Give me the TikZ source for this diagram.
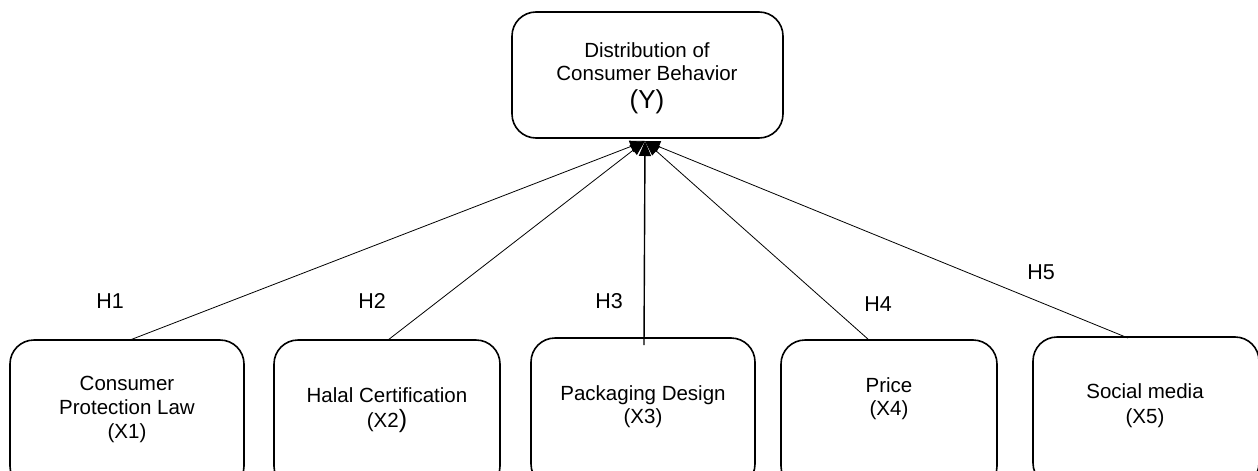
\documentclass[tikz,border=0pt]{standalone}
\usepackage{fontspec}
\setmainfont{Liberation Sans}
\usetikzlibrary{arrows.meta}
\begin{document}
\begin{tikzpicture}[x=1pt,y=-1pt,
  box/.style={draw,line width=1.6pt,rounded corners=24pt,inner sep=0pt},
  lbl/.style={anchor=base,inner sep=0pt,font=\fontsize{20.5}{23.5}\selectfont},
  hyp/.style={anchor=base,inner sep=0pt,font=\fontsize{21.5}{24}\selectfont},
  conn/.style={line width=0.8pt,-{Triangle[length=15pt,width=12pt]}}]
\useasboundingbox (0,0) rectangle (1258,471);
\clip (0,0) rectangle (1258,471);
% boxes
\node[box,minimum width=271pt,minimum height=126pt] (y) at (647.5,75) {};
\node[box,minimum width=234pt,minimum height=150pt] (x1) at (127,415) {};
\node[box,minimum width=226pt,minimum height=150pt] (x2) at (387,415) {};
\node[box,minimum width=224pt,minimum height=150pt] (x3) at (643,413) {};
\node[box,minimum width=216pt,minimum height=150pt] (x4) at (889,415) {};
\node[box,minimum width=226pt,minimum height=150pt] (x5) at (1146,412) {};
% texts
\node[lbl] (ty) at (647,57) {\begin{tabular}[t]{@{}c@{}}Distribution of\\Consumer Behavior\end{tabular}};
\node[lbl,font=\fontsize{26}{28}\selectfont] (tyy) at (647,108) {(Y)};
\node[lbl,font=\fontsize{20.5}{24}\selectfont] (t1) at (127,390) {\begin{tabular}[t]{@{}c@{}}Consumer\\Protection Law\\(X1)\end{tabular}};
\node[lbl] (t2) at (387,402) {\begin{tabular}[t]{@{}c@{}}Halal Certification\\(X2{\fontsize{25}{25}\selectfont )}\end{tabular}};
\node[lbl] (t3) at (643,400) {\begin{tabular}[t]{@{}c@{}}Packaging Design\\(X3)\end{tabular}};
\node[lbl] (t4) at (889,392) {\begin{tabular}[t]{@{}c@{}}Price\\(X4)\end{tabular}};
\node[lbl,font=\fontsize{20.5}{25}\selectfont] (t5) at (1145,398) {\begin{tabular}[t]{@{}c@{}}Social media\\(X5)\end{tabular}};
% hypothesis labels
\node[hyp] (h1) at (110,308) {H1};
\node[hyp] (h2) at (372,308) {H2};
\node[hyp] (h3) at (609,308) {H3};
\node[hyp] (h4) at (878,311) {H4};
\node[hyp] (h5) at (1041,279) {H5};
% connector ends
\coordinate (e1) at (130,340);
\coordinate (e2) at (388,340);
\coordinate (e3) at (644,345);
\coordinate (e4) at (869,340);
\coordinate (e5) at (1128,338);
\coordinate (tip) at (645,141);
\draw[conn] (e1) -- (tip);
\draw[conn] (e2) -- (tip);
\draw[conn,line width=1.4pt] (e3) -- (tip);
\draw[conn] (e4) -- (tip);
\draw[conn] (e5) -- (tip);
\end{tikzpicture}
\end{document}
